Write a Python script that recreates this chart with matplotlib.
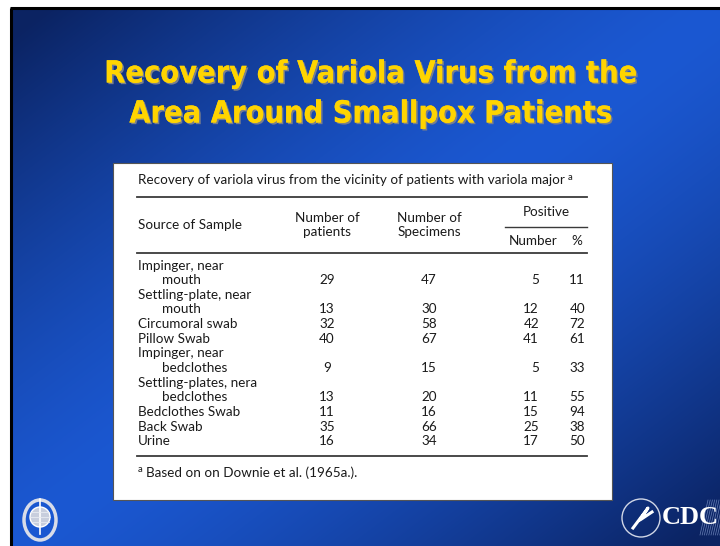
import numpy as np
import matplotlib
matplotlib.use("Agg")
import matplotlib.pyplot as plt
import matplotlib.patheffects as pe
from matplotlib import font_manager
from matplotlib.font_manager import FontProperties
from matplotlib.patches import Rectangle, Circle, Ellipse

# ---------------- data ----------------
title_lines = ["Recovery of Variola Virus from the", "Area Around Smallpox Patients"]
caption = "Recovery of variola virus from the vicinity of patients with variola major"
footnote = "Based on on Downie et al. (1965a.)."
col_headers = ["Source of Sample", "Number of\npatients", "Number of\nSpecimens", "Positive", "Number", "%"]

sources = [
    ["Impinger, near", "mouth"],
    ["Settling-plate, near", "mouth"],
    ["Circumoral swab"],
    ["Pillow Swab"],
    ["Impinger, near", "bedclothes"],
    ["Settling-plates, nera", "bedclothes"],
    ["Bedclothes Swab"],
    ["Back Swab"],
    ["Urine"],
]
n_patients = [29, 13, 32, 40, 9, 13, 11, 35, 16]
n_specimens = [47, 30, 58, 67, 15, 20, 16, 66, 34]
pos_number = [5, 12, 42, 41, 5, 11, 15, 25, 17]
pos_pct = [11, 40, 72, 61, 33, 55, 94, 38, 50]

# ---------------- fonts ----------------
def find_condensed_bold():
    best = None
    for f in font_manager.fontManager.ttflist:
        nm = f.name
        cond = ("Narrow" in nm or "Condensed" in nm or
                str(f.stretch) in ("condensed", "semi-condensed", "extra-condensed"))
        w = f.weight
        bold = (w in ("bold", "heavy", "black")) or (isinstance(w, int) and w >= 700)
        if cond and bold and "Serif" not in nm and "Mono" not in nm:
            score = 0 if ("Liberation" in nm or "Arial" in nm) else 1
            if best is None or score < best[0]:
                best = (score, f.fname)
    return best[1] if best else None

cfont = find_condensed_bold()
if cfont:
    title_fp = FontProperties(fname=cfont, size=28)
else:
    title_fp = FontProperties(family="Liberation Sans", weight="bold", size=28)
tfont = "Lato"
plt.rcParams["mathtext.fontset"] = "custom"
plt.rcParams["mathtext.rm"] = tfont

W, H = 720, 546
fig = plt.figure(figsize=(W / 100, H / 100), dpi=100)
fig.patch.set_facecolor("white")
ax = fig.add_axes([0, 0, 1, 1])
ax.set_xlim(0, W)
ax.set_ylim(H, 0)
ax.axis("off")
renderer = fig.canvas.get_renderer()

# ---------------- background slide ----------------
sx0, sy0 = 12, 9
yy, xx = np.mgrid[0:H - sy0, 0:W - sx0]
u = xx / (W - sx0)
v = yy / (H - sy0)
t = np.clip(np.abs(u + v - 1.0) * 1.05, 0, 1) ** 1.4
bright = np.array([0x1b, 0x58, 0xd2]) / 255
dark = np.array([0x0b, 0x23, 0x62]) / 255
img = bright[None, None, :] * (1 - t[..., None]) + dark[None, None, :] * t[..., None]
ax.imshow(img, extent=(sx0, W, H, sy0), aspect="auto", zorder=0, interpolation="bilinear")
ax.plot([sx0 - 1, sx0 - 1], [sy0 - 1, H], color="black", lw=2.2, zorder=1, solid_capstyle="butt")
ax.plot([sx0 - 2, W], [sy0 - 1, sy0 - 1], color="black", lw=2.2, zorder=1, solid_capstyle="butt")

# ---------------- title ----------------
shadow = [pe.withSimplePatchShadow(offset=(1.2, -1.2), shadow_rgbFace="#7a7f8c", alpha=1.0), pe.Normal()]
title_texts = []
for i, line in enumerate(title_lines):
    tt = ax.text(370, 74 + i * 40, line, ha="center", va="center", fontproperties=title_fp,
                 color="#ffd400", zorder=3, path_effects=shadow)
    title_texts.append(tt)
# fit the first line to the reference width (~533 px)
wpx = title_texts[0].get_window_extent(renderer).width
scale = 533.0 / wpx
if scale < 0.98:
    for tt in title_texts:
        tt.set_fontsize(28 * scale)

# ---------------- table box ----------------
ax.add_patch(Rectangle((113, 163), 499, 337, facecolor="white", edgecolor="#555555", lw=0.8, zorder=4))

fs = 9.7
tc = "#1a1a1a"
lx = 138
cap = ax.text(lx, 180, caption, ha="left", va="center", fontsize=fs, family=tfont, color=tc, zorder=5)
cx = cap.get_window_extent(renderer).x1
ax.text(cx + 3, 178, "a", ha="left", va="center", fontsize=6.8, family=tfont, color=tc, zorder=5)

rule_c = "#3a3a3a"
ax.plot([137, 587], [197, 197], color=rule_c, lw=1.3, zorder=5)
ax.plot([505, 587], [226.5, 226.5], color=rule_c, lw=1.0, zorder=5)
ax.plot([137, 587], [252.5, 252.5], color=rule_c, lw=1.3, zorder=5)
ax.plot([137, 587], [456, 456], color=rule_c, lw=1.3, zorder=5)

# headers
ax.text(lx, 225, col_headers[0], ha="left", va="center", fontsize=fs, family=tfont, color=tc, zorder=5)
ax.text(327, 225, col_headers[1], ha="center", va="center", fontsize=fs, family=tfont, color=tc,
        linespacing=1.2, zorder=5)
ax.text(429, 225, col_headers[2], ha="center", va="center", fontsize=fs, family=tfont, color=tc,
        linespacing=1.2, zorder=5)
ax.text(546, 212, col_headers[3], ha="center", va="center", fontsize=fs, family=tfont, color=tc, zorder=5)
ax.text(533, 241, col_headers[4], ha="center", va="center", fontsize=fs, family=tfont, color=tc, zorder=5)
ax.text(577, 241, col_headers[5], ha="center", va="center", fontsize=fs, family=tfont, color=tc, zorder=5)

# rows
y = 265.5
dy = 14.65
for src, p, s, n, pc in zip(sources, n_patients, n_specimens, pos_number, pos_pct):
    for j, part in enumerate(src):
        ax.text(lx if j == 0 else 162, y, part, ha="left", va="center", fontsize=fs, family=tfont,
                color=tc, zorder=5)
        if j < len(src) - 1:
            y += dy
    ax.text(327, y, str(p), ha="center", va="center", fontsize=fs, family=tfont, color=tc, zorder=5)
    ax.text(429, y, str(s), ha="center", va="center", fontsize=fs, family=tfont, color=tc, zorder=5)
    ax.text(539, y, str(n), ha="right", va="center", fontsize=fs, family=tfont, color=tc, zorder=5)
    ax.text(585, y, str(pc), ha="right", va="center", fontsize=fs, family=tfont, color=tc, zorder=5)
    y += dy

# footnote
ax.text(lx, 470, "a", ha="left", va="center", fontsize=6.8, family=tfont, color=tc, zorder=5)
ax.text(lx + 8, 473, footnote, ha="left", va="center", fontsize=fs, family=tfont, color=tc, zorder=5)

# ---------------- logos ----------------
# WHO emblem (simplified)
ax.add_patch(Ellipse((40, 520), 32, 40, facecolor="none", edgecolor="#d8dce8", lw=2.5, zorder=5))
ax.add_patch(Circle((40, 517), 10, facecolor="#c8cedd", edgecolor="white", lw=1, zorder=5))
ax.plot([40, 40], [499, 534], color="white", lw=1.2, zorder=6)
ax.plot([30, 50], [517, 517], color="#e8ebf2", lw=0.6, zorder=6)
ax.plot([31, 49], [512, 512], color="#e8ebf2", lw=0.6, zorder=6)
ax.plot([31, 49], [522, 522], color="#e8ebf2", lw=0.6, zorder=6)

# CDC / HHS logo (simplified)
ax.add_patch(Circle((641, 518), 19, facecolor="none", edgecolor="#d0d6e6", lw=1.0, zorder=5))
ax.plot([633, 648, 640, 652], [528, 508, 520, 512], color="white", lw=2.2, zorder=6)
for k in range(10):
    x0 = 700 + k * 2.2
    ax.plot([x0, x0 + 8], [535, 500], color="#8fa6d8", lw=0.5, alpha=0.7, zorder=5)
ax.text(690, 518, "CDC", ha="center", va="center", fontsize=19, fontweight="bold",
        family="Liberation Serif", color="white", zorder=6)

fig.savefig("out.png", dpi=100, facecolor="white")
